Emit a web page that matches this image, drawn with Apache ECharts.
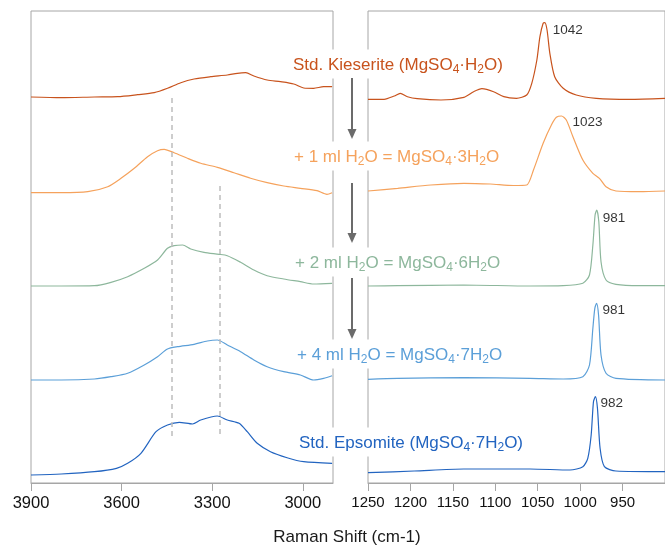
<!DOCTYPE html>
<html>
<head>
<meta charset="utf-8">
<script src="https://cdn.jsdelivr.net/npm/echarts@6/dist/echarts.min.js"></script>
<style>
html,body{margin:0;padding:0;background:#fff;}
#chart{width:665px;height:547px;}
</style>
</head>
<body>
<div id="chart"></div>
<script>
// ---- data (Raman shift cm-1, relative intensity a.u.) ----
const seriesNames = ['Std. Kieserite', '+1 ml H2O', '+2 ml H2O', '+4 ml H2O', 'Std. Epsomite'];
const traceOffsets = [386, 290, 197, 103, 8];
const ohTicks = [3900, 3600, 3300, 3000];
const so4Ticks = [1250, 1200, 1150, 1100, 1050, 1000, 950];
const peakLabels = ['1042', '1023', '981', '981', '982'];
const guideLines = [[3435, 385, 46], [3275, 297, 46]];

const kieseriteOH = [[3900,0],[3800,-0.7],[3690,0],[3613,0.3],[3547,2.3],[3492,4.3],[3448,8.7],[3404,14.3],[3360,18],[3305,20.3],[3250,22],[3217,23.7],[3189,24.3],[3162,21],[3118,17],[3074,15.3],[3030,13],[2997,9],[2964,8.7],[2931,10.3],[2903,10.3]];
const kieseriteSO4 = [[1250,-2.3],[1231,-2.3],[1219,1],[1212,3.7],[1203.5,0.3],[1192,-1.7],[1164,-3],[1137,-0.3],[1125.5,5.3],[1115.7,8.3],[1102,5.3],[1090,0.3],[1075,-1.3],[1063,2],[1057,13.7],[1051,37],[1047.4,60.3],[1043.6,73.7],[1041.6,74.3],[1039,67],[1035.7,43.7],[1030,20.3],[1020,8.7],[1004.6,2],[981,-1.3],[942,-2.3],[900,-1.3]];

const trihydrateOH = [[3900,0.3],[3800,0.3],[3712,1.3],[3646,6.3],[3602,14.7],[3558,24.7],[3514,36.3],[3481,42.3],[3459,43.7],[3426,40.3],[3382,34.7],[3338,29.7],[3283,25.7],[3228,20.3],[3173,14.7],[3118,10.3],[3063,7],[3008,4.7],[2953,2.3],[2920,-1.3],[2903,0.3]];
const trihydrateSO4 = [[1250,2],[1215,4.7],[1176,8],[1137,9.7],[1106,9],[1078.6,7.5],[1063,8],[1055,23],[1043.6,49.7],[1033.9,68],[1028,75.7],[1022,77],[1016.3,73],[1008.5,56.3],[996.8,33],[985,19.7],[977.3,14.7],[969.5,6.3],[957.8,2],[930.5,1.3],[900,2]];

const hexahydrateOH = [[3900,0],[3800,0],[3690,0.3],[3635,3.7],[3580,9.3],[3525,17.7],[3481,26],[3448,37.7],[3426,40.3],[3398,41],[3371,37],[3327,33.7],[3277,31.7],[3250,30.3],[3206,23.7],[3162,16],[3118,10.3],[3063,7],[3008,4.3],[2964,2],[2903,2.7]];
const hexahydrateSO4 = [[1250,0],[1215,0.3],[1137,1],[1059,0],[1020,0.3],[996.8,2.7],[989,11],[985,41],[982.4,71],[980.4,76],[978,64.3],[975.4,24.3],[969.5,6],[957.8,1.7],[930.5,0.3],[900,0.3]];

const heptahydrateOH = [[3900,0],[3800,0],[3690,1],[3635,3.3],[3580,6.7],[3525,15],[3481,23.3],[3448,31],[3415,33.3],[3360,35.7],[3316,39],[3283,40],[3250,35],[3206,28.3],[3162,20],[3118,13.3],[3063,8.3],[3008,5],[2964,0],[2931,1.7],[2903,4.3]];
const heptahydrateSO4 = [[1250,0.7],[1215,1.7],[1137,2.3],[1059,1.7],[1020,1],[996.8,3.3],[989,15],[985,51.7],[982.7,71.7],[980.6,76.7],[978.3,65],[975.4,25],[969.5,6.7],[957.8,1.7],[900,0]];

const epsomiteOH = [[3900,0],[3800,1],[3690,3.3],[3617,6.7],[3580,11.7],[3536,21.7],[3486,43.3],[3448,50],[3409,52.7],[3365,51],[3338,55],[3283,59],[3250,55],[3211,51.7],[3184,43.3],[3151,31.7],[3107,23.3],[3052,17.3],[2997,13.3],[2903,11.7]];
const epsomiteSO4 = [[1250,2.3],[1195.6,4],[1137,6],[1059,6],[1012,5],[996.8,8.3],[991,16.7],[987,40],[984.3,73.3],[982,78.3],[979.6,66.7],[976.5,26.7],[971.4,8.3],[957.8,4],[900,3.3]];

// ---- styles ----
const colors = ['#c8531d', '#f5a25c', '#8db79c', '#5b9fd8', '#2264c0'];
const ohData = [kieseriteOH, trihydrateOH, hexahydrateOH, heptahydrateOH, epsomiteOH];
const so4Data = [kieseriteSO4, trihydrateSO4, hexahydrateSO4, heptahydrateSO4, epsomiteSO4];
const peakLabelOffsets = [[8, 8], [11, 6], [6, 8], [6, 7], [5, 7]];
const FONT = '"Liberation Sans", Arial, sans-serif';

const labelTexts = [
  'Std. Kieserite (MgSO{s|4}·H{s|2}O)',
  '+ 1 ml H{s|2}O = MgSO{s|4}·3H{s|2}O',
  '+ 2 ml H{s|2}O = MgSO{s|4}·6H{s|2}O',
  '+ 4 ml H{s|2}O = MgSO{s|4}·7H{s|2}O',
  'Std. Epsomite (MgSO{s|4}·7H{s|2}O)'
];
const labelPos = [[291, 64], [292, 156], [293, 262], [295, 354], [297, 442]];
const arrowSpans = [[78, 139], [183, 243], [278, 339]];

const shift = (arr, off) => arr.map(p => [p[0], p[1] + off]);

const series = [];
ohData.forEach((d, i) => {
  const s = {
    name: seriesNames[i], type: 'line', xAxisIndex: 0, yAxisIndex: 0,
    data: shift(d, traceOffsets[i]), showSymbol: false, symbol: 'none', smooth: 0.25,
    lineStyle: { width: 1.2, color: colors[i] }, itemStyle: { color: colors[i] }, z: 3, silent: true
  };
  if (i === 4) {
    s.markLine = {
      silent: true, symbol: 'none', label: { show: false },
      lineStyle: { color: '#bdbdbd', type: [5, 4], width: 1.5 },
      data: guideLines.map(g => [{ coord: [g[0], g[1]] }, { coord: [g[0], g[2]] }])
    };
  }
  series.push(s);
});
so4Data.forEach((d, i) => {
  series.push({
    name: seriesNames[i], type: 'line', xAxisIndex: 1, yAxisIndex: 1,
    data: shift(d, traceOffsets[i]), showSymbol: false, symbol: 'none', smooth: 0.25,
    lineStyle: { width: 1.2, color: colors[i] }, itemStyle: { color: colors[i] }, z: 3, silent: true
  });
});
// peak labels
const peakPoints = so4Data.map((d, i) => {
  let best = d[0];
  d.forEach(p => { if (p[1] > best[1]) best = p; });
  return { value: [best[0], best[1] + traceOffsets[i]], label: { offset: peakLabelOffsets[i], formatter: peakLabels[i] } };
});
series.push({
  type: 'scatter', xAxisIndex: 1, yAxisIndex: 1, symbolSize: 0, silent: true, z: 5,
  data: peakPoints,
  label: { show: true, position: 'right', distance: 0, color: '#000', fontSize: 13.5, fontFamily: FONT }
});

const graphics = [];
labelTexts.forEach((t, i) => {
  graphics.push({
    type: 'text', x: labelPos[i][0], y: labelPos[i][1], z: 100,
    style: {
      text: t, fill: colors[i], fontSize: 17, fontFamily: FONT,
      align: 'left', verticalAlign: 'middle',
      backgroundColor: '#fff', padding: [5, 2, 3, 2],
      rich: { s: { fontSize: 12, fontFamily: FONT, fill: colors[i], padding: [9, 0, 0, 0] } }
    }
  });
});
arrowSpans.forEach(a => {
  graphics.push({ type: 'line', z: 100, shape: { x1: 352, y1: a[0], x2: 352, y2: a[1] - 8 }, style: { stroke: '#6b6b6b', lineWidth: 2 } });
  graphics.push({ type: 'polygon', z: 100, shape: { points: [[347.5, a[1] - 10], [356.5, a[1] - 10], [352, a[1]]] }, style: { fill: '#6b6b6b' } });
});
graphics.push({
  type: 'text', x: 347, y: 537, z: 100,
  style: { text: 'Raman Shift (cm-1)', fill: '#1a1a1a', fontSize: 17, fontFamily: FONT, align: 'center', verticalAlign: 'middle' }
});

const axisCommon = (ticks, fs) => ({
  type: 'value', inverse: true,
  axisLine: { show: true, lineStyle: { color: '#a6a6a6', width: 1 } },
  axisTick: { show: true, inside: false, length: 8, customValues: ticks, lineStyle: { color: '#a6a6a6' } },
  axisLabel: { customValues: ticks, color: '#111', fontSize: fs, fontFamily: FONT, margin: 12, formatter: v => String(v) },
  splitLine: { show: false }
});

const option = {
  animation: false,
  backgroundColor: '#fff',
  grid: [
    { left: 31, width: 302, top: 11, bottom: 64, show: true, borderColor: '#a6a6a6', borderWidth: 1 },
    { left: 368, right: -4, top: 11, bottom: 64, show: true, borderColor: '#a6a6a6', borderWidth: 1 }
  ],
  xAxis: [
    Object.assign(axisCommon(ohTicks, 16.5), { gridIndex: 0, min: 2900, max: 3900 }),
    Object.assign(axisCommon(so4Ticks, 15), { gridIndex: 1, min: 900, max: 1250, interval: 50 })
  ],
  yAxis: [
    { type: 'value', gridIndex: 0, min: 0, max: 472, show: false },
    { type: 'value', gridIndex: 1, min: 0, max: 472, show: false }
  ],
  series: series,
  graphic: graphics
};
const chart = echarts.init(document.getElementById('chart'), null, { renderer: 'canvas' });
chart.setOption(option);
</script>
</body>
</html>
